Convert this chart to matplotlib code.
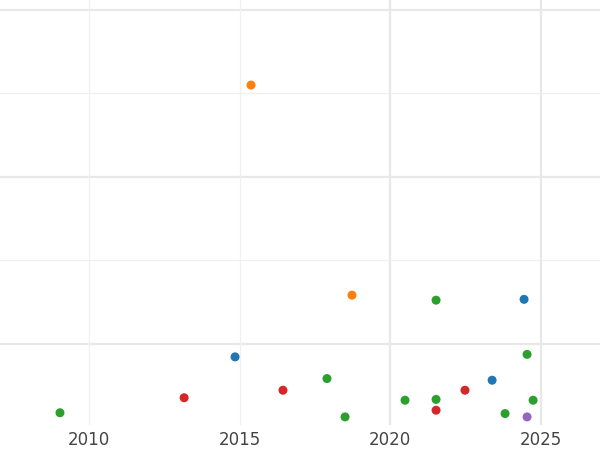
import matplotlib
matplotlib.use("Agg")
import matplotlib.pyplot as plt

years = [2015.38, 2018.73, 2021.52, 2024.44, 2014.85, 2024.54, 2017.9, 2023.38, 2016.44, 2022.48,
         2013.16, 2020.49, 2021.52, 2024.74, 2021.52, 2009.04, 2023.81, 2018.5, 2024.54]
values = [3.10, 0.58, 0.52, 0.53, -0.16, -0.13, -0.42, -0.44, -0.56, -0.56,
          -0.65, -0.68, -0.67, -0.68, -0.80, -0.83, -0.84, -0.88, -0.88]
groups = ["orange", "orange", "green", "blue", "blue", "green", "green", "blue", "red", "red",
          "red", "green", "green", "green", "red", "green", "green", "green", "purple"]
palette = {"blue": "#1f77b4", "orange": "#ff7f0e", "green": "#2ca02c", "red": "#d62728", "purple": "#9467bd"}

fig = plt.figure(figsize=(6, 4.5), dpi=100)
ax = fig.add_axes([0, 0.055, 1, 0.945])
ax.set_xlim(2007.05, 2026.96)
ax.set_ylim(-0.98, 4.12)
for y in [0, 2, 4]:
    ax.axhline(y, color="#e8e8e8", lw=1.6, zorder=0)
for y in [1, 3]:
    ax.axhline(y, color="#f0f0f0", lw=0.9, zorder=0)
for x in [2010, 2015]:
    ax.axvline(x, color="#f0f0f0", lw=0.9, zorder=0)
for x in [2020, 2025]:
    ax.axvline(x, color="#e8e8e8", lw=1.6, zorder=0)
ax.scatter(years, values, c=[palette[g] for g in groups], s=42, zorder=3, linewidths=0)
ax.set_xticks([2010, 2015, 2020, 2025])
ax.set_yticks([])
ax.tick_params(axis="x", length=0, labelsize=12, labelcolor="#444444", pad=4)
for s in ax.spines.values():
    s.set_visible(False)
fig.savefig("out.png")
